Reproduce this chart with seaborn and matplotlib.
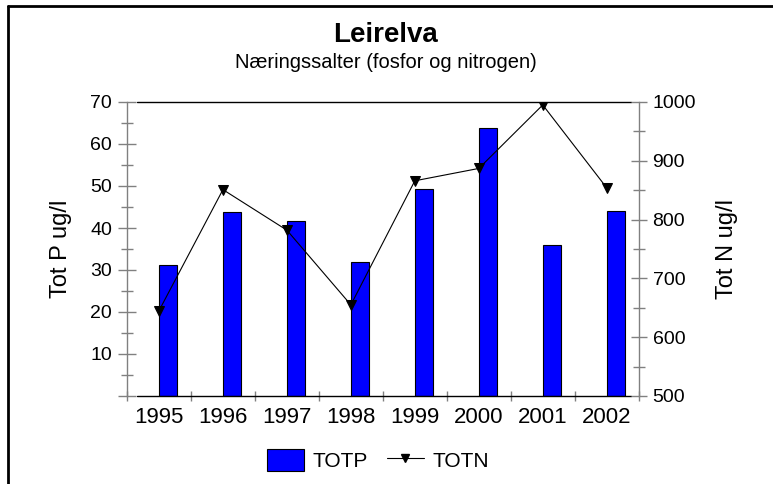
import matplotlib
matplotlib.use("Agg")
import matplotlib.pyplot as plt
import seaborn as sns
import pandas as pd
import numpy as np
from matplotlib.patches import Patch
from matplotlib.lines import Line2D
from matplotlib.ticker import MultipleLocator

# ---- data ----
years = ["1995", "1996", "1997", "1998", "1999", "2000", "2001", "2002"]
totp = [31.1, 43.9, 41.7, 31.8, 49.4, 63.9, 36.0, 44.0]
totn = [645, 851, 782, 655, 866, 887, 995, 854]
title = "Leirelva"
subtitle = "Næringssalter (fosfor og nitrogen)"
left_label = "Tot P ug/l"
right_label = "Tot N ug/l"
left_ticks = [0, 10, 20, 30, 40, 50, 60, 70]
left_ticklabels = ["", "10", "20", "30", "40", "50", "60", "70"]
right_ticks = [500, 600, 700, 800, 900, 1000]

sns.set_theme(style="white")
plt.rcParams["font.family"] = ["Liberation Sans", "DejaVu Sans"]
plt.rcParams["text.color"] = "black"
plt.rcParams["axes.labelcolor"] = "black"
plt.rcParams["xtick.color"] = "black"
plt.rcParams["ytick.color"] = "black"

GRAY = "#808080"
BLUE = "#0000ff"

fig = plt.figure(figsize=(7.73, 4.84), dpi=100)
ax = fig.add_axes([127 / 773, 1 - 396 / 484, 511.7 / 773, 294 / 484])

df = pd.DataFrame({"year": years, "TOTP": totp, "TOTN": totn, "pos": np.arange(len(years))})

sns.barplot(data=df, x="year", y="TOTP", color=BLUE, saturation=1, width=0.28,
            edgecolor="black", linewidth=0.8, ax=ax, zorder=2)
for p in ax.patches:
    p.set_x(p.get_x() + p.get_width() / 2)

ax2 = ax.twinx()
sns.lineplot(data=df, x="pos", y="TOTN", ax=ax2, color="black", linewidth=0.8,
             marker="v", markersize=7, markeredgecolor="black", markerfacecolor="black")

ax.set_xlim(-0.5, len(years) - 0.5)
ax.set_ylim(0, 70)
ax2.set_ylim(500, 1000)

# y ticks left
ax.set_yticks(left_ticks, labels=left_ticklabels)
ax.yaxis.set_minor_locator(MultipleLocator(5))
ax.tick_params(axis="y", which="major", direction="inout", length=13.5, width=1,
               color=GRAY, labelsize=14, pad=4, left=True, labelcolor="black")
ax.tick_params(axis="y", which="minor", direction="inout", length=8.5, width=1,
               color=GRAY, left=True)

# y ticks right
ax2.set_yticks(right_ticks, labels=[str(v) for v in right_ticks])
ax2.yaxis.set_minor_locator(MultipleLocator(50))
ax2.tick_params(axis="y", which="major", direction="inout", length=12, width=1,
                color=GRAY, labelsize=14, pad=4, right=True, labelcolor="black")
ax2.tick_params(axis="y", which="minor", direction="inout", length=8.5, width=1,
                color=GRAY, right=True)

# x ticks
ax.set_xticks(np.arange(len(years)), labels=years)
ax.set_xticks(np.arange(len(years) + 1) - 0.5, minor=True)
ax.tick_params(axis="x", which="major", length=0, labelsize=16, pad=8, bottom=True,
               labelcolor="black")
ax.tick_params(axis="x", which="minor", direction="inout", length=7, width=1,
               color=GRAY, bottom=True)

for s in ["top", "bottom", "right"]:
    ax.spines[s].set_visible(False)
ax.spines["left"].set_color(GRAY)
ax.spines["left"].set_linewidth(1)
for s in ["top", "bottom", "left"]:
    ax2.spines[s].set_visible(False)
ax2.spines["right"].set_color(GRAY)
ax2.spines["right"].set_linewidth(1)
ax2.spines["right"].set_visible(True)

# black plot-area lines at top and bottom
ax.axhline(70, xmin=0.02, xmax=0.984, color="black", linewidth=1, zorder=3, clip_on=False)
ax.axhline(0, xmin=0.02, xmax=0.984, color="black", linewidth=1, zorder=3, clip_on=False)

ax.set_xlabel("")
ax.set_ylabel(left_label, fontsize=17, va="center", color="black")
ax.yaxis.set_label_coords((61.5 - 127) / 511.7, 0.5)
ax2.set_ylabel(right_label, fontsize=17, va="center", color="black")
ax2.yaxis.set_label_coords((727 - 127) / 511.7, 0.5)

fig.text(385.5 / 773, 1 - 35 / 484, title, ha="center", va="center",
         fontsize=20, fontweight="bold", color="black")
fig.text(385.5 / 773, 1 - 62 / 484, subtitle, ha="center", va="center", fontsize=14.5,
         color="black")

handles = [Patch(facecolor=BLUE, edgecolor="black", linewidth=0.8, label="TOTP"),
           Line2D([], [], color="black", linewidth=0.8, marker="v", markersize=5.5, label="TOTN")]
leg = fig.legend(handles=handles, loc="center", bbox_to_anchor=(378 / 773, 1 - 460 / 484),
                 ncol=2, frameon=False, fontsize=15, handlelength=1.8, handleheight=1.2,
                 handletextpad=0.4, columnspacing=0.9)
for t in leg.get_texts():
    t.set_color("black")

# outer frame (top and left edges)
fig.add_artist(Line2D([8 / 773, 8 / 773], [0, 1 - 6 / 484], transform=fig.transFigure,
                      color="black", linewidth=2))
fig.add_artist(Line2D([8 / 773, 1], [1 - 6 / 484, 1 - 6 / 484], transform=fig.transFigure,
                      color="black", linewidth=2))

fig.savefig("out.png", dpi=100)
